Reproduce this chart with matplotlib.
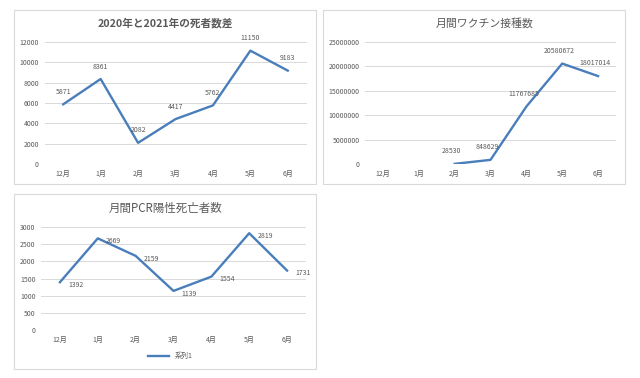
import matplotlib
matplotlib.use("Agg")
import matplotlib.pyplot as plt
from matplotlib.patches import Rectangle

plt.rcParams['font.family'] = ['Noto Sans CJK JP', 'DejaVu Sans']

months = ["12月", "1月", "2月", "3月", "4月", "5月", "6月"]
death_diff = [5871, 8361, 2082, 4417, 5762, 11150, 9183]
vaccine = [None, None, 28530, 848629, 11767685, 20580672, 18017014]
pcr_deaths = [1392, 2669, 2159, 1139, 1554, 2819, 1731]

W, H = 640, 378
fig = plt.figure(figsize=(W / 100, H / 100), dpi=100)
fig.patch.set_facecolor("white")

LINE = "#4a7ebb"
TXT = "#595959"
GRID = "#d9d9d9"


def box(x0, y0, x1, y1):
    fig.patches.append(Rectangle((x0 / W, 1 - y1 / H), (x1 - x0) / W, (y1 - y0) / H,
                                 transform=fig.transFigure, facecolor="white",
                                 edgecolor=GRID, linewidth=0.8, zorder=-5))


def make_ax(x0, x1, ytop, ybot):
    ax = fig.add_axes([x0 / W, 1 - ybot / H, (x1 - x0) / W, (ybot - ytop) / H])
    ax.set_facecolor("none")
    ax.set_zorder(2)
    for s in ax.spines.values():
        s.set_visible(False)
    ax.tick_params(length=0, labelsize=5, colors=TXT)
    ax.tick_params(axis="y", pad=4)
    ax.tick_params(axis="x", pad=4)
    ax.yaxis.grid(True, color=GRID, linewidth=0.7)
    ax.set_axisbelow(True)
    ax.set_xlim(-0.5, len(months) - 0.5)
    ax.set_xticks(range(len(months)))
    ax.set_xticklabels(months)
    return ax


# Panel 1
box(14, 10, 316, 184)
ax1 = make_ax(44.5, 306.5, 42, 164)
ax1.plot(range(len(months)), death_diff, color=LINE, linewidth=1.7)
ax1.set_ylim(0, 12000)
ax1.set_yticks(range(0, 12001, 2000))
for i, v in enumerate(death_diff):
    ax1.annotate(str(v), (i, v), xytext=(0, 6), textcoords="offset points",
                 ha="center", va="bottom", fontsize=5, color=TXT)
fig.text(165 / W, 1 - 23 / H, "2020年と2021年の死者数差", ha="center", va="center",
         fontsize=7.7, fontweight="bold", color=TXT, zorder=3)

# Panel 2
box(323, 10, 625, 184)
ax2 = make_ax(365, 616, 42, 164)
xs = [i for i, v in enumerate(vaccine) if v is not None]
vs = [v for v in vaccine if v is not None]
ax2.plot(xs, vs, color=LINE, linewidth=1.7)
ax2.set_ylim(0, 25000000)
ax2.set_yticks(range(0, 25000001, 5000000))
ax2.ticklabel_format(axis="y", style="plain", useOffset=False)
for i, v in zip(xs, vs):
    ax2.annotate(str(v), (i, v), xytext=(-2, 6.5), textcoords="offset points",
                 ha="center", va="bottom", fontsize=5, color=TXT)
fig.text(485 / W, 1 - 23 / H, "月間ワクチン接種数", ha="center", va="center",
         fontsize=7.8, color=TXT, zorder=3)

# Panel 3
box(14, 194, 316, 369)
ax3 = make_ax(41, 306, 227, 330)
ax3.plot(range(len(months)), pcr_deaths, color=LINE, linewidth=1.7, label="系列1")
ax3.set_ylim(0, 3000)
ax3.set_yticks(range(0, 3001, 500))
for i, v in enumerate(pcr_deaths):
    ax3.annotate(str(v), (i, v), xytext=(6, -2), textcoords="offset points",
                 ha="left", va="center", fontsize=5, color=TXT)
fig.text(166 / W, 1 - 208 / H, "月間PCR陽性死亡者数", ha="center", va="center",
         fontsize=8.3, color=TXT, zorder=3)
leg = ax3.legend(loc="center", bbox_to_anchor=(170 / W, 1 - 356 / H),
                 bbox_transform=fig.transFigure, frameon=False,
                 fontsize=5, handlelength=3)
for t in leg.get_texts():
    t.set_color(TXT)

fig.savefig("out.png", dpi=100, facecolor="white")
